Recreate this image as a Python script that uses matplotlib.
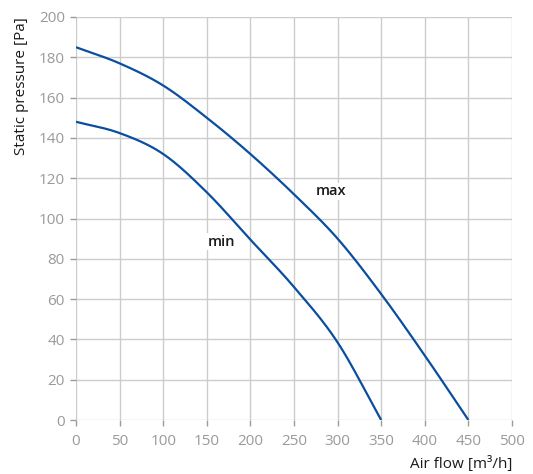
import numpy as np
import matplotlib
matplotlib.use("Agg")
import matplotlib.pyplot as plt

# Data
flow_max = [0, 50, 100, 150, 200, 250, 300, 350, 400, 450]
pres_max = [185, 177, 166, 150, 132, 112, 90, 62.5, 32, 0]
flow_min = [0, 50, 100, 150, 200, 250, 300, 350]
pres_min = [148, 142.4, 132, 113, 89.5, 66, 38.5, 0]

x_ticks = [0, 50, 100, 150, 200, 250, 300, 350, 400, 450, 500]
y_ticks = [0, 20, 40, 60, 80, 100, 120, 140, 160, 180, 200]
x_label = "Air flow [m³/h]"
y_label = "Static pressure [Pa]"
curve_labels = ["max", "min"]
label_pos = [(293, 113.5), (167, 88.5)]

line_color = "#0a4ea0"
grid_color = "#cccccc"
tick_color = "#9a9a9a"

plt.rcParams['font.family'] = ['Open Sans', 'DejaVu Sans']


def smooth(xs, ys, n=20):
    """Catmull-Rom rendering through the read points."""
    xs = np.asarray(xs, float)
    ys = np.asarray(ys, float)
    px = np.concatenate([[2 * xs[0] - xs[1]], xs, [2 * xs[-1] - xs[-2]]])
    py = np.concatenate([[2 * ys[0] - ys[1]], ys, [2 * ys[-1] - ys[-2]]])
    outx, outy = [], []
    t = np.linspace(0, 1, n, endpoint=False)
    for i in range(1, len(px) - 2):
        for arr, out in ((px, outx), (py, outy)):
            p0, p1, p2, p3 = arr[i - 1], arr[i], arr[i + 1], arr[i + 2]
            v = 0.5 * ((2 * p1) + (-p0 + p2) * t + (2 * p0 - 5 * p1 + 4 * p2 - p3) * t ** 2
                       + (-p0 + 3 * p1 - 3 * p2 + p3) * t ** 3)
            out.extend(v)
    outx.append(xs[-1])
    outy.append(ys[-1])
    return np.array(outx), np.array(outy)


fig = plt.figure(figsize=(5.33, 4.74), dpi=100)
ax = fig.add_axes([76 / 533, 1 - 420 / 474, (512 - 76) / 533, (420 - 17) / 474])

for xs, ys in ((flow_max, pres_max), (flow_min, pres_min)):
    sx, sy = smooth(xs, ys)
    ax.plot(sx, sy, color=line_color, lw=1.6, solid_capstyle='butt', zorder=3)

for lab, (lx, ly) in zip(curve_labels, label_pos):
    ax.text(lx, ly, lab, ha='center', va='center', fontsize=10.5, fontweight='semibold',
            color='#1a1a1a', zorder=4,
            bbox=dict(facecolor='white', edgecolor='none', pad=1.0))

ax.set_xlim(0, 500)
ax.set_ylim(0, 200)
ax.set_xticks(x_ticks)
ax.set_yticks(y_ticks)
ax.grid(True, color=grid_color, lw=1.0, zorder=0)
ax.set_axisbelow(True)
for s in ax.spines.values():
    s.set_visible(False)
ax.tick_params(axis='both', colors=tick_color, labelcolor=tick_color, labelsize=11,
               length=4, width=1.0, direction='out', pad=4)
ax.tick_params(axis='x', pad=6)

ax.set_xlabel(x_label, fontsize=11, color='#1a1a1a', loc='right', labelpad=5)
ax.set_ylabel(y_label, fontsize=11, color='#1a1a1a', loc='top', labelpad=7)

fig.savefig("out.png", dpi=100)
